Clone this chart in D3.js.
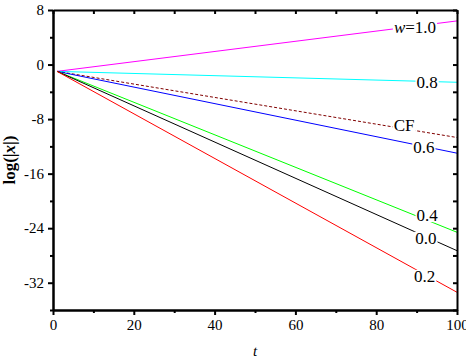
<!DOCTYPE html>
<html>
<head>
<meta charset="utf-8">
<script src="https://cdn.jsdelivr.net/npm/d3@7"></script>
<style>
  body { margin: 0; background: #fff; }
  svg { display: block; }
  svg text { font-family: "Liberation Serif", "Times New Roman", serif; }
</style>
</head>
<body>
<div class="graph-pane"></div>
<script>
// time points and log(|x|) values
const tValues = [1, 100];
const w10 = [-1.0, 6.4];
const w08 = [-1.0, -2.6];
const wCF = [-1.0, -10.7];
const w06 = [-1.0, -13.0];
const w04 = [-1.0, -24.6];
const w00 = [-1.0, -27.3];
const w02 = [-1.0, -33.4];

const seriesNames = ["1.0", "0.8", "CF", "0.6", "0.4", "0.0", "0.2"];
const seriesValues = [w10, w08, wCF, w06, w04, w00, w02];
const seriesColors = ["#ff00ff", "#00ffff", "#800000", "#0000ff", "#00ff00", "#000000", "#ff0000"];

// where each label sits (t, value)
const labelT = [89.6, 92.6, 86.9, 91.8, 92.6, 92.3, 92.0];
const labelV = [5.5, -2.6, -8.9, -12.1, -22.1, -25.4, -31.0];

const xTicks = [0, 20, 40, 60, 80, 100];
const yTicks = [8, 0, -8, -16, -24, -32];

const width = 466, height = 358;
const margin = {top: 10, right: 9, bottom: 48, left: 53};

const svg = d3.select(".graph-pane").append("svg")
  .attr("width", width)
  .attr("height", height);

const x = d3.scaleLinear().domain([0, 100]).range([margin.left, width - margin.right]);
const y = d3.scaleLinear().domain([-36, 8]).range([height - margin.bottom, margin.top]);

const serif = '"Liberation Serif", "Times New Roman", serif';

// lines
const line = d3.line()
  .x((d, i) => x(tValues[i]))
  .y(d => y(d));

seriesValues.forEach((vals, k) => {
  svg.append("path")
    .datum(vals)
    .attr("d", line)
    .attr("fill", "none")
    .attr("stroke", seriesColors[k])
    .attr("stroke-width", 1)
    .attr("stroke-dasharray", seriesNames[k] === "CF" ? "3,2" : null);
});

// labels with a white box that cuts the line
seriesNames.forEach((name, k) => {
  const g = svg.append("g");
  const txt = g.append("text")
    .attr("x", x(labelT[k]))
    .attr("y", y(labelV[k]))
    .attr("dy", "0.35em")
    .attr("text-anchor", "middle")
    .style("font-family", serif)
    .style("font-size", "17px");
  if (k === 0) {
    txt.append("tspan").style("font-style", "italic").text("w");
    txt.append("tspan").text("=" + name);
  } else {
    txt.text(name);
  }
  const bb = txt.node().getBBox();
  g.insert("rect", "text")
    .attr("x", bb.x - 1)
    .attr("y", bb.y + 3)
    .attr("width", bb.width + 2)
    .attr("height", bb.height - 6)
    .attr("fill", "#fff");
});

// axes
const minorX = d3.range(0, 101, 10).filter(v => v % 20 !== 0);
const minorY = d3.range(-36, 9, 4).filter(v => v % 8 !== 0);
const fmt = d => String(d); // plain hyphen minus like the original

function styleAxis(g) {
  g.attr("font-family", null).attr("font-size", null);
  g.selectAll("text").style("font-family", serif).style("font-size", "15px");
  g.select(".domain").attr("stroke-width", 2);
  g.selectAll(".tick line").attr("stroke-width", 2);
}

svg.append("g")
  .attr("transform", "translate(0," + y(-36) + ")")
  .call(d3.axisBottom(x).tickValues(xTicks).tickFormat(fmt).tickSizeInner(5).tickSizeOuter(0).tickPadding(4))
  .call(styleAxis);
svg.append("g")
  .attr("transform", "translate(0," + y(-36) + ")")
  .call(d3.axisBottom(x).tickValues(minorX).tickSizeInner(3).tickSizeOuter(0).tickFormat(""))
  .call(styleAxis);

svg.append("g")
  .attr("transform", "translate(" + x(0) + ",0)")
  .call(d3.axisLeft(y).tickValues(yTicks).tickFormat(fmt).tickSizeInner(5).tickSizeOuter(0).tickPadding(4))
  .call(styleAxis);
svg.append("g")
  .attr("transform", "translate(" + x(0) + ",0)")
  .call(d3.axisLeft(y).tickValues(minorY).tickSizeInner(3).tickSizeOuter(0).tickFormat(""))
  .call(styleAxis);

// mirrored axes, ticks point inward
svg.append("g")
  .attr("transform", "translate(0," + y(8) + ")")
  .call(d3.axisTop(x).tickValues(xTicks.concat(minorX)).tickSizeInner(-4).tickSizeOuter(0).tickFormat(""))
  .call(styleAxis);
svg.append("g")
  .attr("transform", "translate(" + x(100) + ",0)")
  .call(d3.axisRight(y).tickValues(yTicks.concat(minorY)).tickSizeInner(-4).tickSizeOuter(0).tickFormat(""))
  .call(styleAxis);

// axis titles
svg.append("text")
  .attr("x", x(50))
  .attr("y", 356)
  .attr("text-anchor", "middle")
  .style("font-family", serif)
  .style("font-size", "15px")
  .style("font-style", "italic")
  .text("t");

const yTitle = svg.append("text")
  .attr("transform", "translate(15," + y(-14) + ") rotate(-90)")
  .attr("text-anchor", "middle")
  .style("font-family", serif)
  .style("font-size", "17px")
  .style("font-weight", "bold");
yTitle.append("tspan").text("log(|");
yTitle.append("tspan").style("font-style", "italic").text("x");
yTitle.append("tspan").text("|)");
</script>
</body>
</html>
